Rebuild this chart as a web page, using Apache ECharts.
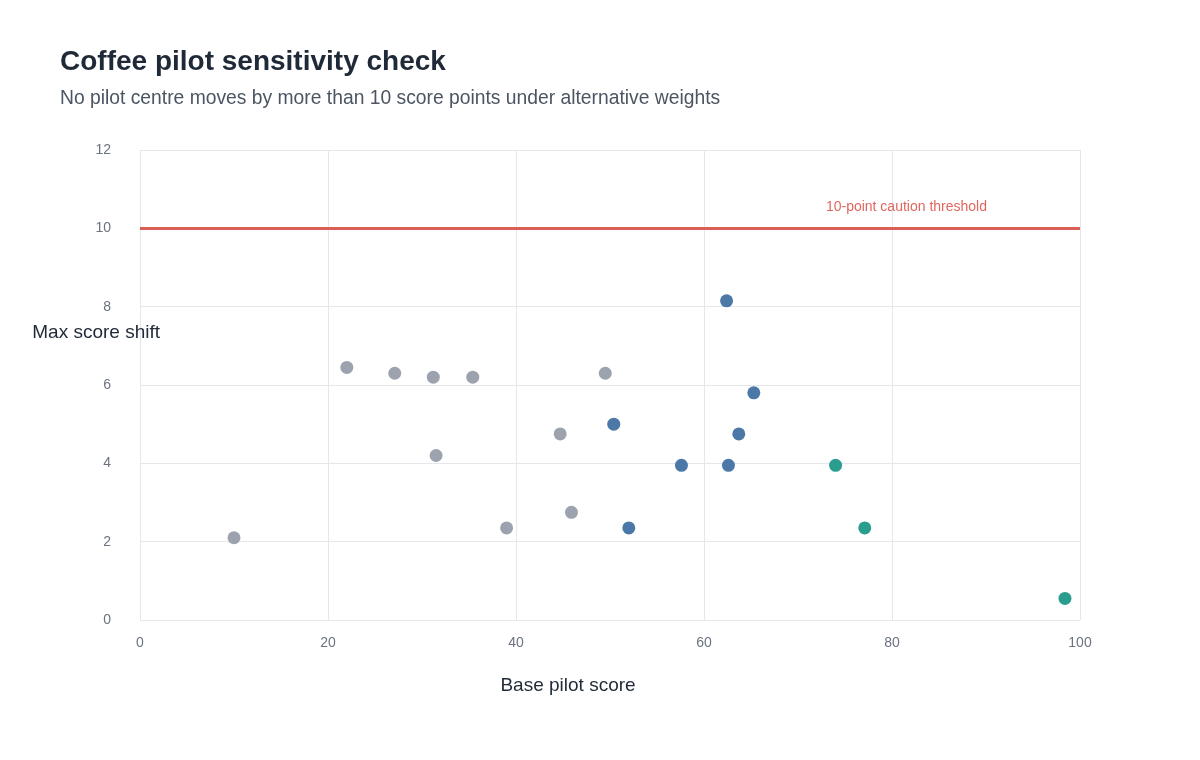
<!DOCTYPE html>
<html>
<head>
<meta charset="utf-8">
<title>Coffee pilot sensitivity check</title>
<script src="https://cdn.jsdelivr.net/npm/echarts@6/dist/echarts.min.js"></script>
<style>
  html, body { margin: 0; padding: 0; background: #fff; }
  #chart { width: 1200px; height: 760px; }
</style>
</head>
<body>
<div id="chart"></div>
<script>
// [base pilot score, max score shift]
var otherCentres = [
  [10.0, 2.1], [22.0, 6.45], [27.1, 6.3], [31.2, 6.2], [35.4, 6.2],
  [31.5, 4.2], [39.0, 2.35], [44.7, 4.75], [45.9, 2.75], [49.5, 6.3]
];
var pilotCandidates = [
  [50.4, 5.0], [52.0, 2.35], [57.6, 3.95], [62.4, 8.15],
  [62.6, 3.95], [63.7, 4.75], [65.3, 5.8]
];
var priorityPilots = [
  [74.0, 3.95], [77.1, 2.35], [98.4, 0.55]
];
var cautionThreshold = 10;
var xTicks = [0, 20, 40, 60, 80, 100];
var yTicks = [0, 2, 4, 6, 8, 10, 12];

var font = '"Liberation Sans", Arial, sans-serif';

function dotSeries(name, data, color) {
  return {
    name: name,
    type: 'scatter',
    data: data,
    symbolSize: 13,
    itemStyle: { color: color, opacity: 1 }
  };
}

var series = [
  dotSeries('Other centres', otherCentres, '#9ca3af'),
  dotSeries('Pilot candidates', pilotCandidates, '#4c78a8'),
  dotSeries('Priority pilots', priorityPilots, '#2a9d8f')
];
// threshold line
series[0].markLine = {
  silent: true,
  symbol: 'none',
  lineStyle: { color: '#d95f57', width: 3, type: 'solid' },
  label: {
    show: true,
    position: 'insideEndTop',
    distance: [93, 14],
    formatter: '10-point caution threshold',
    color: '#e0675f',
    fontSize: 14,
    fontFamily: font
  },
  data: [{ yAxis: cautionThreshold }]
};

var option = {
  backgroundColor: '#fff',
  textStyle: { fontFamily: font },
  animation: false,
  title: {
    text: 'Coffee pilot sensitivity check',
    subtext: 'No pilot centre moves by more than 10 score points under alternative weights',
    left: 55,
    top: 43,
    itemGap: 13,
    textStyle: { fontSize: 28, fontWeight: 'bold', color: '#1f2937', fontFamily: font },
    subtextStyle: { fontSize: 19.3, color: '#4b5563', fontFamily: font }
  },
  grid: { left: 140, right: 120, top: 150, bottom: 140, outerBoundsMode: 'none', containLabel: false },
  xAxis: {
    type: 'value',
    min: xTicks[0],
    max: xTicks[xTicks.length - 1],
    interval: 20,
    name: 'Base pilot score',
    nameLocation: 'middle',
    nameGap: 56,
    nameTextStyle: { fontSize: 19, color: '#1f2937', padding: [0, 84, 0, 0] },
    axisLine: { show: false },
    axisTick: { show: false },
    axisLabel: { color: '#6b7280', fontSize: 14, margin: 16 },
    splitLine: { show: true, lineStyle: { color: '#e5e7eb', width: 1 } }
  },
  yAxis: {
    type: 'value',
    min: yTicks[0],
    max: yTicks[yTicks.length - 1],
    interval: 2,
    name: 'Max score shift',
    nameLocation: 'middle',
    nameRotate: 0,
    nameGap: -20,
    nameMoveOverlap: false,
    nameTextStyle: {
      fontSize: 19, color: '#1f2937', align: 'right', verticalAlign: 'bottom',
      padding: [0, 0, 43, 0]
    },
    axisLine: { show: false },
    axisTick: { show: false },
    axisLabel: { color: '#6b7280', fontSize: 14, margin: 29 },
    splitLine: { show: true, lineStyle: { color: '#e5e7eb', width: 1 } }
  },
  series: series
};

var myChart = echarts.init(document.getElementById('chart'));
myChart.setOption(option);
</script>
</body>
</html>
